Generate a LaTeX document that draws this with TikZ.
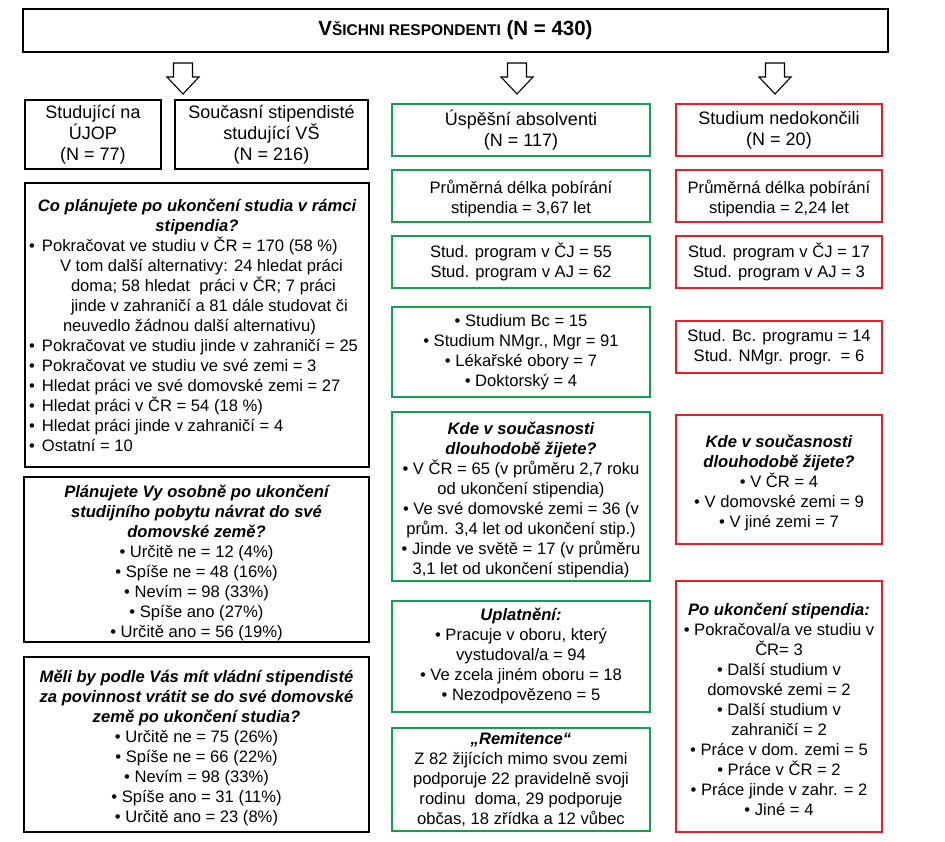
\documentclass[tikz,border=0pt]{standalone}
\usepackage{fontspec}
\setmainfont{Liberation Sans}
\definecolor{mygreen}{RGB}{20,160,80}
\definecolor{myred}{RGB}{235,28,36}
\newcommand\bodyfont{\fontsize{16.6}{20}\selectfont}
\newcommand\headfont{\fontsize{18}{21}\selectfont}
\newcommand\qh[1]{{\bfseries\itshape #1}}
\newcommand\bl{\makebox[13pt][l]{•}}
\begin{document}
\begin{tikzpicture}[x=1pt,y=-1pt,
  box/.style={draw, line width=1.1pt, inner sep=0pt, align=center, font=\bodyfont},
  gbox/.style={box, draw=mygreen},
  rbox/.style={box, draw=myred},
  hollow/.pic={\draw[line width=1.1pt, line join=miter] (-9.5,0) -- (9.5,0) -- (9.5,14) -- (16,14) -- (0,31) -- (-16,14) -- (-9.5,14) -- cycle;}
]
\useasboundingbox[fill=white] (0,0) rectangle (945,841);

% top
\node[box, minimum width=865, minimum height=43] (all) at (455.5,30.5)
  {\bfseries\fontsize{20.5}{21}\selectfont V{\fontsize{15.5}{16}\selectfont ŠICHNI RESPONDENTI} (N = 430)};

% arrows
\coordinate (a1) at (183,63);
\coordinate (a2) at (517,63);
\coordinate (a3) at (775,63);
\pic at (a1) {hollow};
\pic at (a2) {hollow};
\pic at (a3) {hollow};

% left column
\node[box, font=\headfont, minimum width=136, minimum height=69] (ujop) at (93,134.5)
  {Studující na\\ÚJOP\\(N = 77)};
\node[box, font=\headfont, minimum width=193, minimum height=69] (vs) at (271.5,134.5)
  {Současní stipendisté\\studující VŠ\\(N = 216)};

\node[box, align=left, minimum width=344, minimum height=284] (q1) at (197,325)
  {\makebox[336pt][c]{\qh{Co plánujete po ukončení studia v rámci}}\\
   \makebox[336pt][c]{\qh{stipendia?}}\\
   \bl Pokračovat ve studiu v ČR = 170 (58 \%)\\
   \hspace*{31pt}V tom další alternativy: 24 hledat práci\\
   \hspace*{42pt}doma; 58 hledat\ \ práci v ČR; 7 práci\\
   \hspace*{42pt}jinde v zahraničí a 81 dále studovat či\\
   \hspace*{34pt}neuvedlo žádnou další alternativu)\\
   \bl Pokračovat ve studiu jinde v zahraničí = 25\\
   \bl Pokračovat ve studiu ve své zemi = 3\\
   \bl Hledat práci ve své domovské zemi = 27\\
   \bl Hledat práci v ČR = 54 (18 \%)\\
   \bl Hledat práci jinde v zahraničí = 4\\
   \bl Ostatní = 10};

\node[box, minimum width=345, minimum height=165] (q2) at (196.5,559.5)
  {\rule{0pt}{20pt}\qh{Plánujete Vy osobně po ukončení}\\
   \qh{studijního pobytu návrat do své}\\
   \qh{domovské země?}\\
   • Určitě ne = 12 (4\%)\\
   • Spíše ne = 48 (16\%)\\
   • Nevím = 98 (33\%)\\
   • Spíše ano (27\%)\\
   • Určitě ano = 56 (19\%)};

\node[box, minimum width=345, minimum height=175] (q3) at (196.5,744.5)
  {\rule{0pt}{20pt}\qh{Měli by podle Vás mít vládní stipendisté}\\
   \qh{za povinnost vrátit se do své domovské}\\
   \qh{země po ukončení studia?}\\
   • Určitě ne = 75 (26\%)\\
   • Spíše ne = 66 (22\%)\\
   • Nevím = 98 (33\%)\\
   • Spíše ano = 31 (11\%)\\
   • Určitě ano = 23 (8\%)};

% middle column (green)
\node[gbox, font=\headfont, minimum width=258, minimum height=52] (g1) at (521,130)
  {Úspěšní absolventi\\(N = 117)};
\node[gbox, minimum width=258, minimum height=52] (g2) at (521,196)
  {\rule{0pt}{18pt}Průměrná délka pobírání\\stipendia = 3,67 let};
\node[gbox, minimum width=258, minimum height=52] (g3) at (521,262)
  {Stud. program v ČJ = 55\\Stud. program v AJ = 62};
\node[gbox, minimum width=258, minimum height=90] (g4) at (521,352)
  {• Studium Bc = 15\\• Studium NMgr., Mgr = 91\\• Lékařské obory = 7\\• Doktorský = 4};
\node[gbox, minimum width=258, minimum height=169] (g5) at (521,496.5)
  {\rule{0pt}{20pt}\qh{Kde v současnosti}\\
   \qh{dlouhodobě žijete?}\\
   • V ČR = 65 (v průměru 2,7 roku\\
   od ukončení stipendia)\\
   • Ve své domovské zemi = 36 (v\\
   prům. 3,4 let od ukončení stip.)\\
   • Jinde ve světě = 17 (v průměru\\
   3,1 let od ukončení stipendia)};
\node[gbox, minimum width=258, minimum height=111] (g6) at (521,656.5)
  {\qh{Uplatnění:}\\
   • Pracuje v oboru, který\\
   vystudoval/a = 94\\
   • Ve zcela jiném oboru = 18\\
   • Nezodpovězeno = 5};
\node[gbox, minimum width=258, minimum height=103] (g7) at (521,779.5)
  {\qh{„Remitence“}\\
   Z 82 žijících mimo svou zemi\\
   podporuje 22 pravidelně svoji\\
   rodinu\ \ doma, 29 podporuje\\
   občas, 18 zřídka a 12 vůbec};

% right column (red)
\node[rbox, font=\headfont, minimum width=206, minimum height=52] (r1) at (779,130)
  {Studium nedokončili\\(N = 20)};
\node[rbox, minimum width=206, minimum height=52] (r2) at (779,196)
  {\rule{0pt}{18pt}Průměrná délka pobírání\\stipendia = 2,24 let};
\node[rbox, minimum width=206, minimum height=52] (r3) at (779,262)
  {Stud. program v ČJ = 17\\Stud. program v AJ = 3};
\node[rbox, minimum width=206, minimum height=52] (r4) at (779,347)
  {Stud. Bc. programu = 14\\Stud. NMgr. progr.\ \ = 6};
\node[rbox, minimum width=206, minimum height=129] (r5) at (779,479.5)
  {\rule{0pt}{20pt}\qh{Kde v současnosti}\\
   \qh{dlouhodobě žijete?}\\
   • V ČR = 4\\
   • V domovské zemi = 9\\
   • V jiné zemi = 7};
\node[rbox, minimum width=206, minimum height=251] (r6) at (779,706.5)
  {\rule{0pt}{18pt}\qh{Po ukončení stipendia:}\\
   • Pokračoval/a ve studiu v\\
   ČR= 3\\
   • Další studium v\\
   domovské zemi = 2\\
   • Další studium v\\
   zahraničí = 2\\
   • Práce v dom. zemi = 5\\
   • Práce v ČR = 2\\
   • Práce jinde v zahr. = 2\\
   • Jiné = 4};
\end{tikzpicture}
\end{document}
